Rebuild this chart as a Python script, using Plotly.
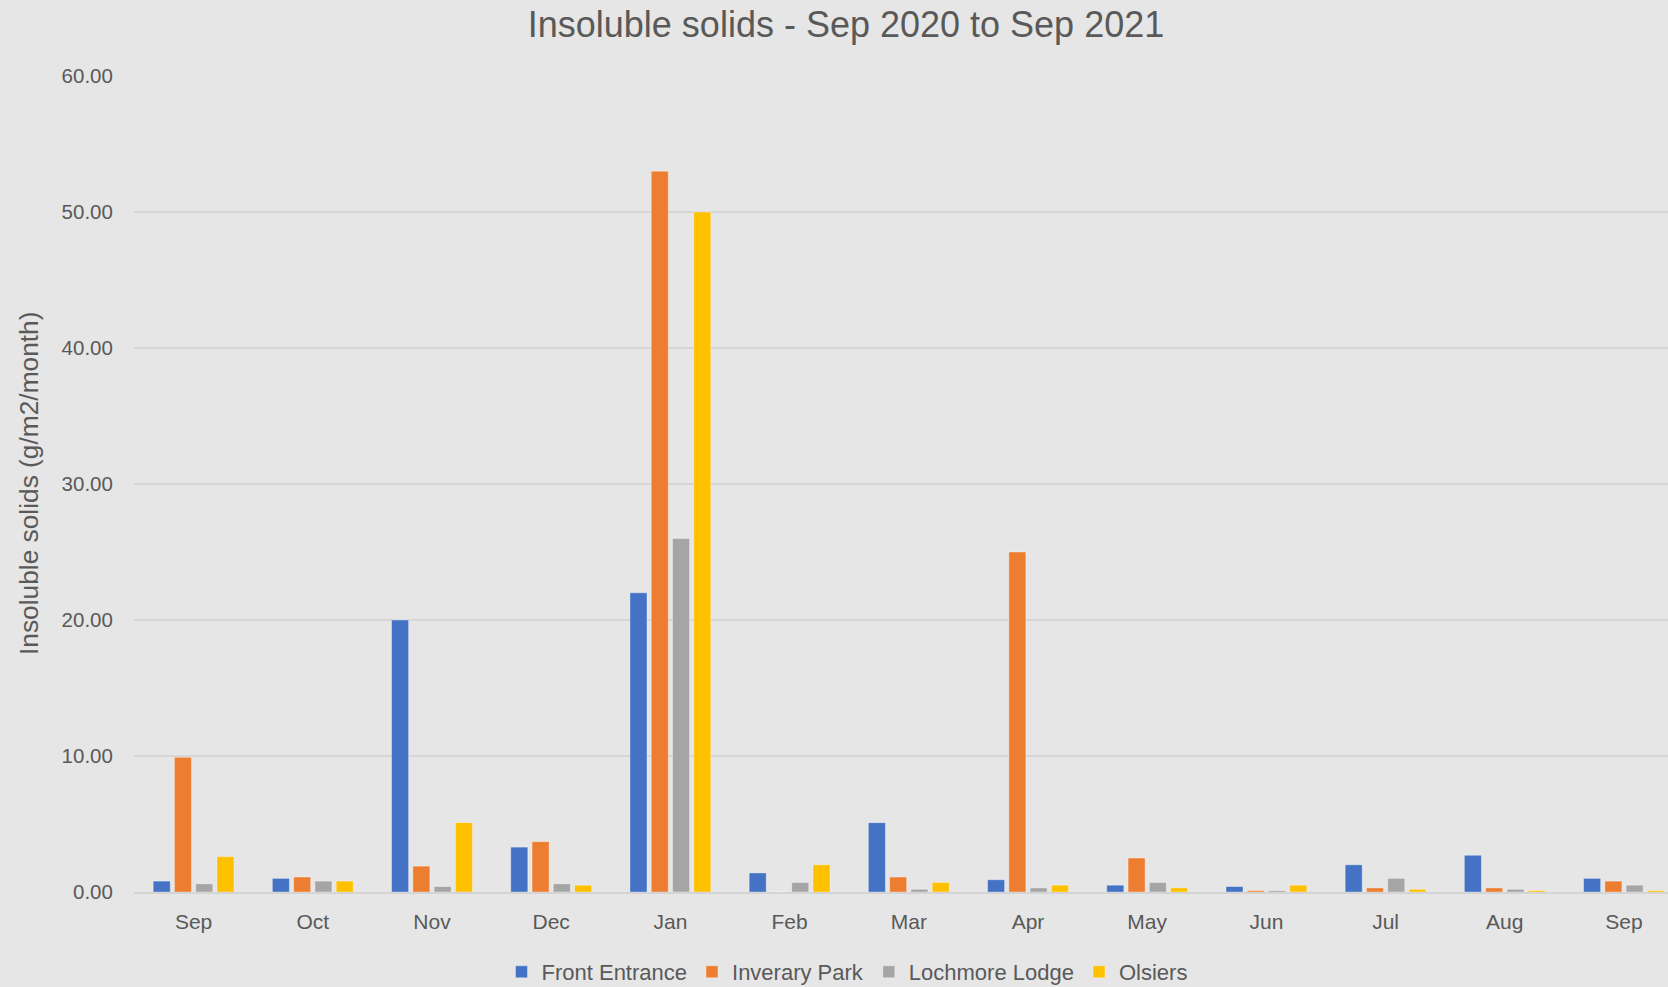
import plotly.graph_objects as go

months = ["Sep", "Oct", "Nov", "Dec", "Jan", "Feb", "Mar", "Apr", "May", "Jun", "Jul", "Aug", "Sep"]
front_entrance = [0.8, 1.0, 20.0, 3.3, 22.0, 1.4, 5.1, 0.9, 0.5, 0.4, 2.0, 2.7, 1.0]
inverary_park = [9.9, 1.1, 1.9, 3.7, 53.0, 0.0, 1.1, 25.0, 2.5, 0.1, 0.3, 0.3, 0.8]
lochmore_lodge = [0.6, 0.8, 0.4, 0.6, 26.0, 0.7, 0.2, 0.3, 0.7, 0.1, 1.0, 0.2, 0.5]
olsiers = [2.6, 0.8, 5.1, 0.5, 50.0, 2.0, 0.7, 0.5, 0.3, 0.5, 0.2, 0.1, 0.1]

series = [
    ("Front Entrance", front_entrance, "#4472C4"),
    ("Inverary Park", inverary_park, "#ED7D31"),
    ("Lochmore Lodge", lochmore_lodge, "#A5A5A5"),
    ("Olsiers", olsiers, "#FFC000"),
]

W, H = 1668, 987
L, T, B = 134, 76, 95
plot_w = W - L
band = 119.2
xmax = -0.5 + plot_w / band

FONT = "Liberation Sans, Arial, sans-serif"
TXT = "#595959"
BG = "#E6E6E6"

fig = go.Figure()
for name, vals, col in series:
    fig.add_trace(go.Bar(
        x=list(range(len(months))), y=vals, name=name,
        marker=dict(color=col, line=dict(color="rgba(255,255,255,0.35)", width=1)),
    ))

fig.update_layout(
    width=W, height=H,
    margin=dict(l=L, r=0, t=T, b=B, pad=0),
    paper_bgcolor=BG, plot_bgcolor=BG,
    barmode="group", bargap=0.286, bargroupgap=0.2,
    font=dict(family=FONT, color=TXT, size=20),
    title=dict(text="Insoluble solids - Sep 2020 to Sep 2021", x=846 / W, xanchor="center",
               y=1 - 24 / H, yanchor="middle", font=dict(size=36, color=TXT, family=FONT)),
    showlegend=True,
    legend=dict(orientation="h", x=847 / W, xref="container", xanchor="center",
                y=(H - 972) / H, yref="container", yanchor="middle",
                font=dict(size=22, color=TXT, family=FONT), bgcolor="rgba(0,0,0,0)",
                tracegroupgap=0),
    xaxis=dict(range=[-0.5, xmax], tickmode="array", tickvals=list(range(len(months))),
               ticktext=months, showgrid=False, zeroline=False,
               showline=True, linecolor="#D4D4D4", linewidth=2,
               ticks="outside", ticklen=10, tickcolor="rgba(0,0,0,0)",
               tickfont=dict(size=21, color=TXT, family=FONT), fixedrange=True),
    yaxis=dict(range=[0, 60], dtick=10, tickformat=".2f", showgrid=True,
               gridcolor="#D6D6D6", gridwidth=1.5, zeroline=False, showline=False,
               ticks="outside", ticklen=16, tickcolor="rgba(0,0,0,0)",
               tickfont=dict(size=20.5, color=TXT, family=FONT), fixedrange=True),
)

fig.add_annotation(text="Insoluble solids (g/m2/month)", textangle=-90,
                   xref="paper", yref="paper", x=(29 - L) / plot_w, y=(892 - 484) / 816,
                   xanchor="center", yanchor="middle", showarrow=False,
                   font=dict(size=26.3, color=TXT, family=FONT))

fig.write_html("out.html", config={"displayModeBar": False},
               post_script="document.body.style.margin='0';document.body.style.overflow='hidden';")
